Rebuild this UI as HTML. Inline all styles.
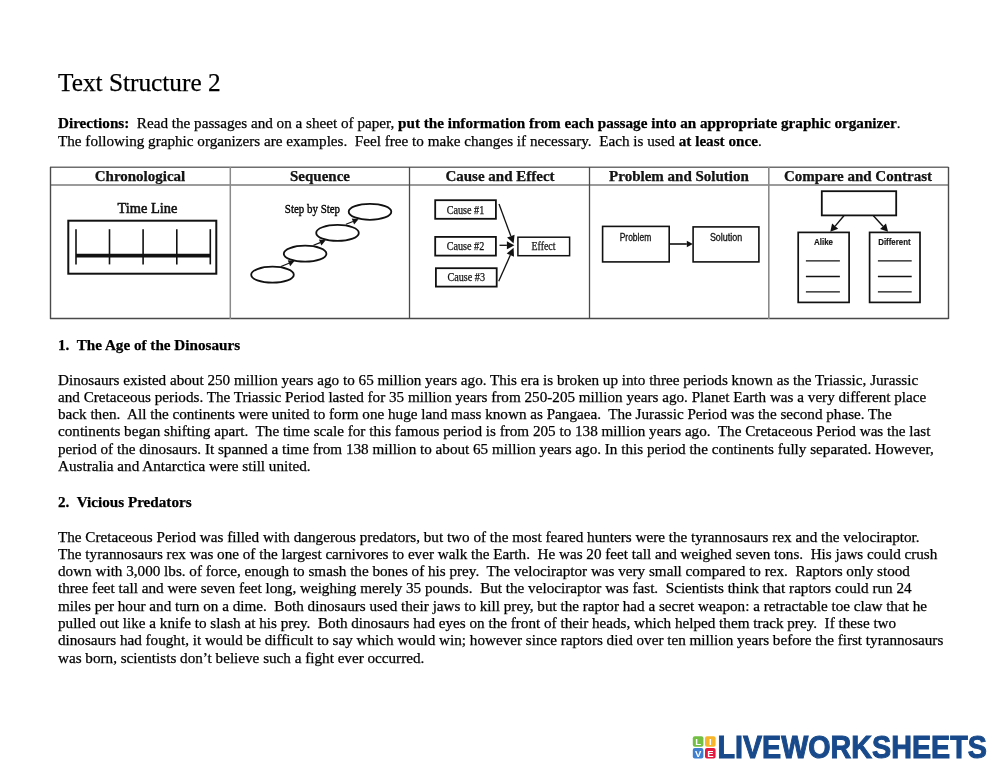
<!DOCTYPE html>
<html><head><meta charset="utf-8"><title>Text Structure 2</title>
<style>
html,body{margin:0;padding:0;background:#fff;}
body{width:999px;height:772px;position:relative;overflow:hidden;font-family:'Liberation Serif', serif;color:#141414;}
.t{position:absolute;white-space:pre;line-height:17px;will-change:transform;-webkit-text-stroke:0.25px #000;}
.g{position:absolute;left:0;top:0;}
</style></head><body>
<div class="t" style="left:58px;top:74px;font-size:25.3px;font-weight:400;font-family:'Liberation Serif', serif;color:#000;">Text Structure 2</div>
<div class="t" style="left:58px;top:114px;font-size:15.16px;font-weight:400;font-family:'Liberation Serif', serif;color:#000;"><b>Directions:</b>&nbsp; Read the passages and on a sheet of paper, <b>put the information from each passage into an appropriate graphic organizer</b>.</div>
<div class="t" style="left:58px;top:132px;font-size:15.16px;font-weight:400;font-family:'Liberation Serif', serif;color:#000;">The following graphic organizers are examples.&nbsp; Feel free to make changes if necessary.&nbsp; Each is used <b>at least once</b>.</div>
<div class="t" style="left:58px;top:336px;font-size:15.16px;font-weight:700;font-family:'Liberation Serif', serif;color:#000;">1.&nbsp; The Age of the Dinosaurs</div>
<div class="t" style="left:58px;top:371px;font-size:15.16px;font-weight:400;font-family:'Liberation Serif', serif;color:#000;">Dinosaurs existed about 250 million years ago to 65 million years ago. This era is broken up into three periods known as the Triassic, Jurassic</div>
<div class="t" style="left:58px;top:388px;font-size:15.16px;font-weight:400;font-family:'Liberation Serif', serif;color:#000;">and Cretaceous periods. The Triassic Period lasted for 35 million years from 250-205 million years ago. Planet Earth was a very different place</div>
<div class="t" style="left:58px;top:405px;font-size:15.16px;font-weight:400;font-family:'Liberation Serif', serif;color:#000;">back then.&nbsp; All the continents were united to form one huge land mass known as Pangaea.&nbsp; The Jurassic Period was the second phase. The</div>
<div class="t" style="left:58px;top:422px;font-size:15.16px;font-weight:400;font-family:'Liberation Serif', serif;color:#000;">continents began shifting apart.&nbsp; The time scale for this famous period is from 205 to 138 million years ago.&nbsp; The Cretaceous Period was the last</div>
<div class="t" style="left:58px;top:440px;font-size:15.16px;font-weight:400;font-family:'Liberation Serif', serif;color:#000;">period of the dinosaurs. It spanned a time from 138 million to about 65 million years ago. In this period the continents fully separated. However,</div>
<div class="t" style="left:58px;top:457px;font-size:15.16px;font-weight:400;font-family:'Liberation Serif', serif;color:#000;">Australia and Antarctica were still united.</div>
<div class="t" style="left:58px;top:493px;font-size:15.16px;font-weight:700;font-family:'Liberation Serif', serif;color:#000;">2.&nbsp; Vicious Predators</div>
<div class="t" style="left:58px;top:528px;font-size:15.16px;font-weight:400;font-family:'Liberation Serif', serif;color:#000;">The Cretaceous Period was filled with dangerous predators, but two of the most feared hunters were the tyrannosaurs rex and the velociraptor.</div>
<div class="t" style="left:58px;top:545px;font-size:15.16px;font-weight:400;font-family:'Liberation Serif', serif;color:#000;">The tyrannosaurs rex was one of the largest carnivores to ever walk the Earth.&nbsp; He was 20 feet tall and weighed seven tons.&nbsp; His jaws could crush</div>
<div class="t" style="left:58px;top:562px;font-size:15.16px;font-weight:400;font-family:'Liberation Serif', serif;color:#000;">down with 3,000 lbs. of force, enough to smash the bones of his prey.&nbsp; The velociraptor was very small compared to rex.&nbsp; Raptors only stood</div>
<div class="t" style="left:58px;top:579px;font-size:15.16px;font-weight:400;font-family:'Liberation Serif', serif;color:#000;">three feet tall and were seven feet long, weighing merely 35 pounds.&nbsp; But the velociraptor was fast.&nbsp; Scientists think that raptors could run 24</div>
<div class="t" style="left:58px;top:597px;font-size:15.16px;font-weight:400;font-family:'Liberation Serif', serif;color:#000;">miles per hour and turn on a dime.&nbsp; Both dinosaurs used their jaws to kill prey, but the raptor had a secret weapon: a retractable toe claw that he</div>
<div class="t" style="left:58px;top:614px;font-size:15.16px;font-weight:400;font-family:'Liberation Serif', serif;color:#000;">pulled out like a knife to slash at his prey.&nbsp; Both dinosaurs had eyes on the front of their heads, which helped them track prey.&nbsp; If these two</div>
<div class="t" style="left:58px;top:631px;font-size:15.16px;font-weight:400;font-family:'Liberation Serif', serif;color:#000;">dinosaurs had fought, it would be difficult to say which would win; however since raptors died over ten million years before the first tyrannosaurs</div>
<div class="t" style="left:58px;top:649px;font-size:15.16px;font-weight:400;font-family:'Liberation Serif', serif;color:#000;">was born, scientists don&rsquo;t believe such a fight ever occurred.</div>
<div class="t" style="left:40.0px;width:200px;text-align:center;top:168px;font-size:15px;font-weight:700">Chronological</div>
<div class="t" style="left:219.75px;width:200px;text-align:center;top:168px;font-size:15px;font-weight:700">Sequence</div>
<div class="t" style="left:399.5px;width:200px;text-align:center;top:168px;font-size:15px;font-weight:700">Cause and Effect</div>
<div class="t" style="left:579.0px;width:200px;text-align:center;top:168px;font-size:15px;font-weight:700">Problem and Solution</div>
<div class="t" style="left:758.25px;width:200px;text-align:center;top:168px;font-size:15px;font-weight:700">Compare and Contrast</div>
<svg class="g" width="999" height="772" viewBox="0 0 999 772"><g fill="none"><line x1="50" y1="167.3" x2="948.5" y2="167.3" stroke="#6e6e6e" stroke-width="1.4"/><line x1="50" y1="185" x2="948.5" y2="185" stroke="#7a7a7a" stroke-width="1.5"/><line x1="50" y1="318.5" x2="948.5" y2="318.5" stroke="#4a4a4a" stroke-width="1.4"/><line x1="50.5" y1="167" x2="50.5" y2="319" stroke="#4a4a4a" stroke-width="1.4"/><line x1="948.5" y1="167" x2="948.5" y2="319" stroke="#4a4a4a" stroke-width="1.4"/><line x1="230.3" y1="167" x2="230.3" y2="319" stroke="#8a8a8a" stroke-width="1.5"/><line x1="409.5" y1="167" x2="409.5" y2="319" stroke="#4a4a4a" stroke-width="1.3"/><line x1="589.5" y1="167" x2="589.5" y2="319" stroke="#4a4a4a" stroke-width="1.3"/><line x1="768.8" y1="167" x2="768.8" y2="319" stroke="#8a8a8a" stroke-width="1.6"/></g><text x="117.5" y="213" font-family="Liberation Serif" font-size="14.4" fill="#111" stroke="#111" stroke-width="0.55" textLength="59.8" lengthAdjust="spacingAndGlyphs">Time Line</text><rect x="68.3" y="220.7" width="148" height="53" fill="none" stroke="#111" stroke-width="2"/><line x1="76" y1="229.2" x2="76" y2="264.4" stroke="#111" stroke-width="1.6"/><line x1="109.5" y1="229.2" x2="109.5" y2="264.4" stroke="#111" stroke-width="1.6"/><line x1="143.1" y1="229.2" x2="143.1" y2="264.4" stroke="#111" stroke-width="1.6"/><line x1="176.8" y1="229.2" x2="176.8" y2="264.4" stroke="#111" stroke-width="1.6"/><line x1="210.3" y1="229.2" x2="210.3" y2="264.4" stroke="#111" stroke-width="1.6"/><line x1="76" y1="255.6" x2="210.3" y2="255.6" stroke="#111" stroke-width="3.6"/><text x="284.8" y="213.4" font-family="Liberation Serif" font-size="12" fill="#000" stroke="#000" stroke-width="0.35" textLength="55.3" lengthAdjust="spacingAndGlyphs">Step by Step</text><ellipse cx="272.5" cy="274.7" rx="21.3" ry="8.0" fill="none" stroke="#111" stroke-width="1.8"/><ellipse cx="305.1" cy="253.7" rx="21.3" ry="8.0" fill="none" stroke="#111" stroke-width="1.8"/><ellipse cx="337.5" cy="232.9" rx="21.3" ry="8.0" fill="none" stroke="#111" stroke-width="1.8"/><ellipse cx="370" cy="211.8" rx="21.3" ry="8.0" fill="none" stroke="#111" stroke-width="1.8"/><line x1="281" y1="266.5" x2="288.94" y2="263.26" stroke="#111" stroke-width="1.2"/><path d="M294.50,261.00 L290.15,266.23 L287.74,260.30 Z" fill="#111"/><line x1="313.5" y1="245.3" x2="320.15" y2="242.58" stroke="#111" stroke-width="1.2"/><path d="M325.70,240.30 L321.36,245.54 L318.93,239.61 Z" fill="#111"/><line x1="346" y1="224.3" x2="352.93" y2="221.53" stroke="#111" stroke-width="1.2"/><path d="M358.50,219.30 L354.12,224.50 L351.74,218.56 Z" fill="#111"/><rect x="435.2" y="200.20000000000002" width="60.70" height="18.60" fill="none" stroke="#111" stroke-width="1.8"/><text x="446.7" y="213.7" font-family="Liberation Serif" font-size="11.6" fill="#111" stroke="#111" stroke-width="0.25" textLength="37.6" lengthAdjust="spacingAndGlyphs">Cause #1</text><rect x="435.2" y="236.9" width="60.70" height="18.70" fill="none" stroke="#111" stroke-width="1.8"/><text x="446.7" y="249.7" font-family="Liberation Serif" font-size="11.6" fill="#111" stroke="#111" stroke-width="0.25" textLength="37.6" lengthAdjust="spacingAndGlyphs">Cause #2</text><rect x="435.9" y="268.2" width="60.80" height="18.40" fill="none" stroke="#111" stroke-width="1.8"/><text x="447.4" y="281" font-family="Liberation Serif" font-size="11.6" fill="#111" stroke="#111" stroke-width="0.25" textLength="37.6" lengthAdjust="spacingAndGlyphs">Cause #3</text><rect x="517.9" y="237.2" width="51.7" height="18.5" fill="none" stroke="#111" stroke-width="1.5"/><text x="531.5" y="249.7" font-family="Liberation Serif" font-size="11.6" fill="#111" stroke="#111" stroke-width="0.25" textLength="24" lengthAdjust="spacingAndGlyphs">Effect</text><line x1="499" y1="204.1" x2="510.83" y2="236.10" stroke="#111" stroke-width="1.3"/><path d="M513.60,243.60 L507.07,237.48 L514.58,234.71 Z" fill="#111"/><line x1="499.5" y1="245.3" x2="506.90" y2="245.30" stroke="#111" stroke-width="1.3"/><path d="M514.40,245.30 L506.90,249.30 L506.90,241.30 Z" fill="#111"/><line x1="498.7" y1="281.3" x2="510.35" y2="255.11" stroke="#111" stroke-width="1.3"/><path d="M513.60,247.80 L514.00,256.74 L506.69,253.48 Z" fill="#111"/><rect x="602.6" y="226.4" width="66.6" height="35.5" fill="none" stroke="#111" stroke-width="1.6"/><rect x="693.1" y="226.9" width="65.8" height="35" fill="none" stroke="#111" stroke-width="1.6"/><text x="619.7" y="240.5" font-family="Liberation Sans" font-size="10" fill="#111" stroke="#111" stroke-width="0.3" textLength="31.5" lengthAdjust="spacingAndGlyphs">Problem</text><text x="709.9" y="240.5" font-family="Liberation Sans" font-size="10" fill="#111" stroke="#111" stroke-width="0.3" textLength="32.3" lengthAdjust="spacingAndGlyphs">Solution</text><line x1="670" y1="244" x2="686.80" y2="244.00" stroke="#111" stroke-width="1.6"/><path d="M692.80,244.00 L686.80,247.20 L686.80,240.80 Z" fill="#111"/><rect x="821.8" y="191.2" width="74.4" height="24.2" fill="none" stroke="#111" stroke-width="1.8"/><rect x="798.2" y="232.4" width="50.9" height="70" fill="none" stroke="#111" stroke-width="1.7"/><rect x="869.6" y="232.4" width="50.4" height="70" fill="none" stroke="#111" stroke-width="1.7"/><text x="814" y="244.6" font-family="Liberation Sans" font-size="8.6" font-weight="700" fill="#111" stroke="#111" stroke-width="0.15" textLength="19" lengthAdjust="spacingAndGlyphs">Alike</text><text x="878.2" y="244.6" font-family="Liberation Sans" font-size="8.6" font-weight="700" fill="#111" stroke="#111" stroke-width="0.15" textLength="32.4" lengthAdjust="spacingAndGlyphs">Different</text><line x1="805.9" y1="260.8" x2="839.9" y2="260.8" stroke="#111" stroke-width="1.3"/><line x1="877.9" y1="260.8" x2="911.7" y2="260.8" stroke="#111" stroke-width="1.3"/><line x1="805.9" y1="276.5" x2="839.9" y2="276.5" stroke="#111" stroke-width="1.3"/><line x1="877.9" y1="276.5" x2="911.7" y2="276.5" stroke="#111" stroke-width="1.3"/><line x1="805.9" y1="291.8" x2="839.9" y2="291.8" stroke="#111" stroke-width="1.3"/><line x1="877.9" y1="291.8" x2="911.7" y2="291.8" stroke="#111" stroke-width="1.3"/><line x1="843.9" y1="215.8" x2="835.16" y2="226.09" stroke="#111" stroke-width="1.4"/><path d="M830.30,231.80 L832.11,223.49 L838.21,228.68 Z" fill="#111"/><line x1="873.4" y1="215.8" x2="883.03" y2="226.28" stroke="#111" stroke-width="1.4"/><path d="M888.10,231.80 L880.08,228.98 L885.97,223.57 Z" fill="#111"/><rect x="692.8" y="736.2" width="10.6" height="10.6" rx="2" fill="#72bf44"/><text x="698.0999999999999" y="744.8000000000001" text-anchor="middle" font-family="Liberation Sans" font-weight="700" font-size="9.5" fill="#fff">L</text><rect x="705" y="736.2" width="10.6" height="10.6" rx="2" fill="#f7b52c"/><text x="710.3" y="744.8000000000001" text-anchor="middle" font-family="Liberation Sans" font-weight="700" font-size="9.5" fill="#fff">I</text><rect x="692.8" y="748" width="10.6" height="10.6" rx="2" fill="#3f7fd0"/><text x="698.0999999999999" y="756.6" text-anchor="middle" font-family="Liberation Sans" font-weight="700" font-size="9.5" fill="#fff">V</text><rect x="705" y="748" width="10.6" height="10.6" rx="2" fill="#e3193f"/><text x="710.3" y="756.6" text-anchor="middle" font-family="Liberation Sans" font-weight="700" font-size="9.5" fill="#fff">E</text><text x="717.4" y="758.2" font-family="Liberation Sans" font-weight="700" font-size="31.3" fill="#184a8b" stroke="#184a8b" stroke-width="1.0" textLength="269.5" lengthAdjust="spacingAndGlyphs">LIVEWORKSHEETS</text></svg>
</body></html>
